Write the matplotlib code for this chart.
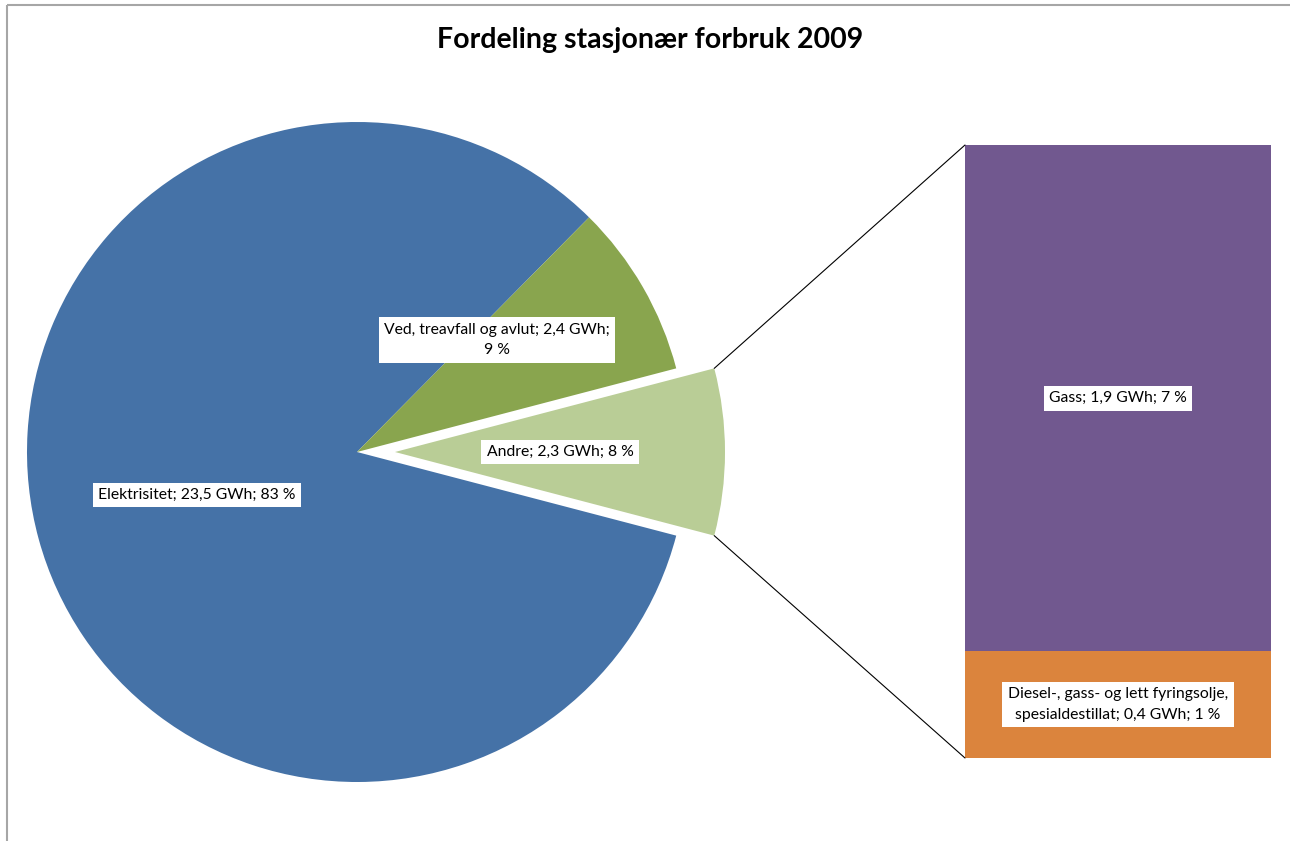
import numpy as np
import matplotlib.pyplot as plt
from matplotlib.patches import ConnectionPatch, Rectangle

# data (GWh)
pie_labels = ["Andre", "Elektrisitet", "Ved, treavfall og avlut"]
pie_values = [2.3, 23.5, 2.4]
pie_pcts = ["8 %", "83 %", "9 %"]
pie_colors = ["#B9CD96", "#4572A7", "#89A54E"]

bar_labels = ["Diesel-, gass- og lett fyringsolje,\nspesialdestillat", "Gass"]
bar_values = [0.4, 1.9]
bar_pcts = ["1 %", "7 %"]
bar_colors = ["#DB843D", "#71588F"]

plt.rcParams['font.family'] = ['Lato', 'DejaVu Sans']


def gwh(v):
    return f"{v:.1f}".replace('.', ',') + " GWh"


W, H = 1290, 841
fig = plt.figure(figsize=(W / 100, H / 100), dpi=100)
ax = fig.add_axes([0, 0, 1, 1])

# chart border (only top and left visible)
ax.add_patch(Rectangle((6.5, 4.5), W + 20, H + 20, fill=False, edgecolor='#A6A6A6', lw=1.5))

ax.text(650, 40, "Fordeling stasjonær forbruk 2009", ha='center', va='center',
        fontsize=20.5, fontweight='bold', color='black')

total = sum(pie_values)
start = -360 * pie_values[0] / total / 2
cx, cy, r = 357, 452, 330
wedges, _ = ax.pie(pie_values, colors=pie_colors, startangle=start, counterclock=True,
                   center=(cx, cy), radius=r, explode=[38, 0, 0],
                   wedgeprops=dict(linewidth=0), frame=True)
ax.set_xlim(0, W)
ax.set_ylim(H, 0)
ax.set_aspect('equal')
ax.axis('off')

box = dict(boxstyle='square,pad=0.35', fc='white', ec='none')
fs = 11.3
ax.text(560, 452, f"{pie_labels[0]}; {gwh(pie_values[0])}; {pie_pcts[0]}",
        ha='center', va='center', fontsize=fs, bbox=box)
ax.text(197, 495, f"{pie_labels[1]}; {gwh(pie_values[1])}; {pie_pcts[1]}",
        ha='center', va='center', fontsize=fs, bbox=box)
ax.text(497, 340, f"{pie_labels[2]}; {gwh(pie_values[2])};\n{pie_pcts[2]}",
        ha='center', va='center', fontsize=fs, bbox=box, linespacing=1.6)

# bar of pie
bx0, by0, bw, bh = 965, 758, 306, 613
bax = fig.add_axes([bx0 / W, (H - by0) / H, bw / W, bh / H])
bottom = 0
for lab, v, p, c in zip(bar_labels, bar_values, bar_pcts, bar_colors):
    bax.bar(0, v, width=1, bottom=bottom, color=c, linewidth=0)
    bax.text(0, bottom + v / 2, f"{lab}; {gwh(v)}; {p}", ha='center', va='center',
             fontsize=fs, bbox=box, linespacing=1.6)
    bottom += v
bax.set_xlim(-0.5, 0.5)
bax.set_ylim(0, sum(bar_values))
bax.axis('off')

# connector lines from the exploded slice to the bar
w = wedges[0]
ox, oy = w.center
for ang, yb in [(w.theta1, sum(bar_values)), (w.theta2, 0)]:
    px = ox + w.r * np.cos(np.radians(ang))
    py = oy + w.r * np.sin(np.radians(ang))
    con = ConnectionPatch(xyA=(px, py), coordsA=ax.transData, xyB=(-0.5, yb),
                          coordsB=bax.transData, color='black', lw=0.8)
    fig.add_artist(con)

fig.savefig("out.png", dpi=100)
